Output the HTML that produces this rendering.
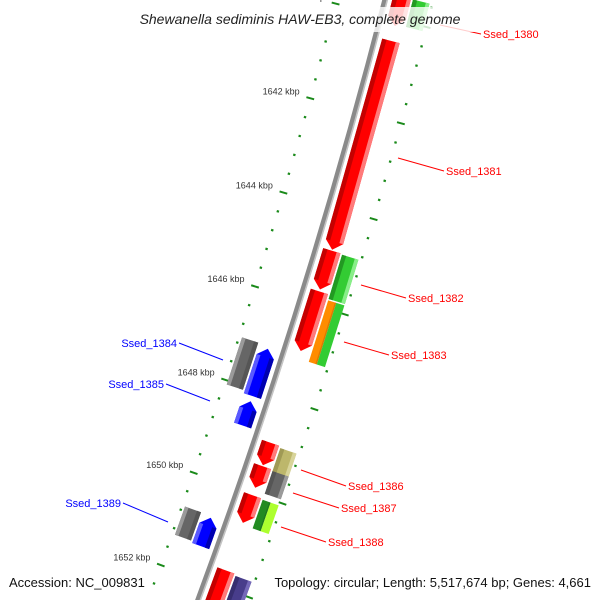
<!DOCTYPE html>
<html><head><meta charset="utf-8"><style>
html,body{margin:0;padding:0;background:#fff;width:600px;height:600px;overflow:hidden;}
svg{display:block;overflow:hidden;font-family:"Liberation Sans","DejaVu Sans",sans-serif;}
</style></head><body>
<svg id="map" width="600" height="600" viewBox="0 0 600 600">
<rect width="600" height="600" fill="#fff"/>
<g id="ticks"></g>
<g id="backbone"></g>
<g id="feats"></g>
<g id="labels"></g>
<rect x="122" y="7" width="356" height="25" fill="#fff" fill-opacity="0.8"/>
<text x="300" y="24" text-anchor="middle" font-size="14" font-style="italic" fill="#222">Shewanella sediminis HAW-EB3, complete genome</text>
<text x="9" y="587" font-size="13" fill="#111">Accession: NC_009831</text>
<text x="591" y="587" text-anchor="end" font-size="13" fill="#111">Topology: circular; Length: 5,517,674 bp; Genes: 4,661</text>
</svg>
<script>
// ---- data ----
const featNames  = ["Ssed_1380a","Ssed_1380","Ssed_1381","Ssed_1382","Ssed_1382b","Ssed_1383","Ssed_1383b","Ssed_1384b","Ssed_1384","Ssed_1385","Ssed_1386","Ssed_1386b","Ssed_1387","Ssed_1387b","Ssed_1388","Ssed_1388b","Ssed_1389b","Ssed_1389","Ssed_1390","Ssed_1390b"];
const featStarts = [1639.0,1639.53,1640.45,1644.85,1644.87,1645.71,1645.83,1647.07,1647.13,1648.25,1648.92,1648.96,1649.42,1649.45,1650.04,1650.06,1650.71,1650.75,1651.65,1651.69];
const featEnds   = [1640.14,1640.10,1644.83,1645.67,1645.80,1646.97,1647.13,1648.08,1648.14,1648.77,1649.40,1649.47,1649.88,1649.93,1650.63,1650.67,1651.32,1651.36,1653.0,1653.0];
const featTracks = [1,2,1,1,2,1,2,-2,-1,-1,1,2,1,2,1,2,-2,-1,1,2];
const featKinds  = ["red","green","red","red","green","red","orangegreen","gray","blue","blue","red","khaki","red","gray","red","greens","gray","blue","red","slate"];
const tickStep = 0.4;
const tickFirst = 1638, tickLast = 1654;
const labelNames = ["Ssed_1380","Ssed_1381","Ssed_1382","Ssed_1383","Ssed_1384","Ssed_1385","Ssed_1386","Ssed_1387","Ssed_1388","Ssed_1389"];

// ---- geometry ----
const NS="http://www.w3.org/2000/svg";
const CX=-5513, CY=-1509, R=6088, A0=15.43, DPK=0.465;
function ang(k){return (A0+(k-1642)*DPK)*Math.PI/180;}
function pt(r,k){const a=ang(k);return [CX+r*Math.cos(a),CY+r*Math.sin(a)];}
function P(arr){return arr.map(p=>p[0].toFixed(2)+","+p[1].toFixed(2)).join(" ");}
const trackOff={1:[7,25],2:[27,44],"-1":[-7,-25],"-2":[-27,-44]};
const palette={red:["#ff0000","#c40000","#ff7a7a"],green:["#33cc33","#229922","#88ee88"],blue:["#0000ff","#0000b0","#5a5aff"],gray:["#666666","#555555","#9a9a9a"],khaki:["#bdb76b","#a09a55","#d8d49a"],slate:["#483d8b","#372e70","#7468b8"]};
function poly(parent,pts,fill,name){const e=document.createElementNS(NS,"polygon");e.setAttribute("points",P(pts));e.setAttribute("fill",fill);


parent.appendChild(e);return e;}

// backbone
const bb=document.getElementById("backbone");
[[0,5.5,"#8a8a8a"],[2.2,1.6,"#c4c4c4"]].forEach(([d,w,c])=>{
  const p1=pt(R+d,1639.2),p2=pt(R+d,1653.2);
  const e=document.createElementNS(NS,"path");
  e.setAttribute("d",`M${p1[0]},${p1[1]} A${R+d},${R+d} 0 0 1 ${p2[0]},${p2[1]}`);
  e.setAttribute("fill","none");e.setAttribute("stroke",c);e.setAttribute("stroke-width",w);
  
  
  bb.appendChild(e);
});

// ticks
const tg=document.getElementById("ticks");
const nT=Math.round((tickLast-tickFirst)/tickStep);
for(let i=0;i<=nT;i++){
  const k=tickFirst+i*tickStep;
  const major=Math.abs(k/2-Math.round(k/2))<1e-6;
  [-47,47].forEach(off=>{
    const half=major?4:1.2;
    const a=pt(R+off-half,k),b=pt(R+off+half,k);
    if(a[1]<-5||a[1]>605) return;
    const l=document.createElementNS(NS,"line");
    l.setAttribute("x1",a[0]);l.setAttribute("y1",a[1]);l.setAttribute("x2",b[0]);l.setAttribute("y2",b[1]);
    l.setAttribute("stroke","#1a8a1a");l.setAttribute("stroke-width",major?2:2.2);
    
    
    tg.appendChild(l);
  });
  if(major){
    const p=pt(R-58,k);
    if(p[1]<0||p[1]>600) continue;
    const t=document.createElementNS(NS,"text");
    t.setAttribute("x",p[0]);t.setAttribute("y",p[1]-1);t.setAttribute("text-anchor","end");
    t.setAttribute("font-size","9");t.setAttribute("fill","#333");
    t.textContent=Math.round(k)+" kbp";
    
    
    tg.appendChild(t);
  }
}

// features
const fg=document.getElementById("feats");
function band(k1,k2,r1,r2,tip,fwd){
  const h=0.17;
  if(!tip) return [pt(r1,k1),pt(r2,k1),pt(r2,k2),pt(r1,k2)];
  if(fwd) return [pt(r1,k1),pt(r2,k1),pt(r2,k2-h),pt((r1+r2)/2,k2),pt(r1,k2-h)];
  return [pt(r1,k1+h),pt((r1+r2)/2,k1),pt(r2,k1+h),pt(r2,k2),pt(r1,k2)];
}
for(let i=0;i<featNames.length;i++){
  const k1=featStarts[i],k2=featEnds[i],tr=featTracks[i],kind=featKinds[i];
  const [o1,o2]=trackOff[tr];const r1=R+o1,r2=R+o2;
  const g=document.createElementNS(NS,"g");
  
  
  fg.appendChild(g);
  const isArrow=(Math.abs(tr)===1);
  const fwd=tr>0;
  if(kind==="orangegreen"||kind==="greens"){
    const rm=(r1+r2)/2;
    const c1=kind==="orangegreen"?"#ff8c00":"#228b22", c2=kind==="orangegreen"?"#33cc33":"#adff2f";
    poly(g,band(k1,k2,r1,rm,false),c1,'feature-inner-half');
    poly(g,band(k1,k2,rm,r2,false),c2,'feature-outer-half');
    poly(g,band(k1,k2,rm-1.5,rm,false),"#00000022",'feature-shade');
    continue;
  }
  const [base,dark,light]=palette[kind];
  poly(g,band(k1,k2,r1,r2,isArrow,fwd),base,'feature-body');
  const w=r2-r1, hk=isArrow?0.17:0;
  const s1=fwd?k1:k1+hk, s2=fwd?k2-hk:k2;
  poly(g,band(s1,s2,r1,r1+w*0.25,false),dark,'feature-shade-dark');
  poly(g,band(s1,s2,r2-w*0.22,r2,false),light,'feature-shade-light');
}

// labels
const lg=document.getElementById("labels");
const labelX=[483,446,408,391,177,164,348,341,328,121];
const labelY=[34,171,298,355,343,384,486,508,542,503];
const lineFromX=[440,398,361,344,223,210,301,293,281,168];
const lineFromY=[25,158,285,342,360,401,470,493,527,522];
labelNames.forEach((n,i)=>{
  const left=labelX[i]<250;
  const col=left?"#0000ff":"#ff0000";
  const l=document.createElementNS(NS,"line");
  l.setAttribute("x1",lineFromX[i]);l.setAttribute("y1",lineFromY[i]);
  l.setAttribute("x2",left?labelX[i]+2:labelX[i]-2);l.setAttribute("y2",labelY[i]);
  l.setAttribute("stroke",col);l.setAttribute("stroke-width","1");
  
  
  lg.appendChild(l);
  const t=document.createElementNS(NS,"text");
  t.setAttribute("x",labelX[i]);t.setAttribute("y",labelY[i]+4);
  t.setAttribute("font-size","11");t.setAttribute("fill",col);
  if(left)t.setAttribute("text-anchor","end");
  t.textContent=n;
  
  
  lg.appendChild(t);
});
</script>
</body></html>
